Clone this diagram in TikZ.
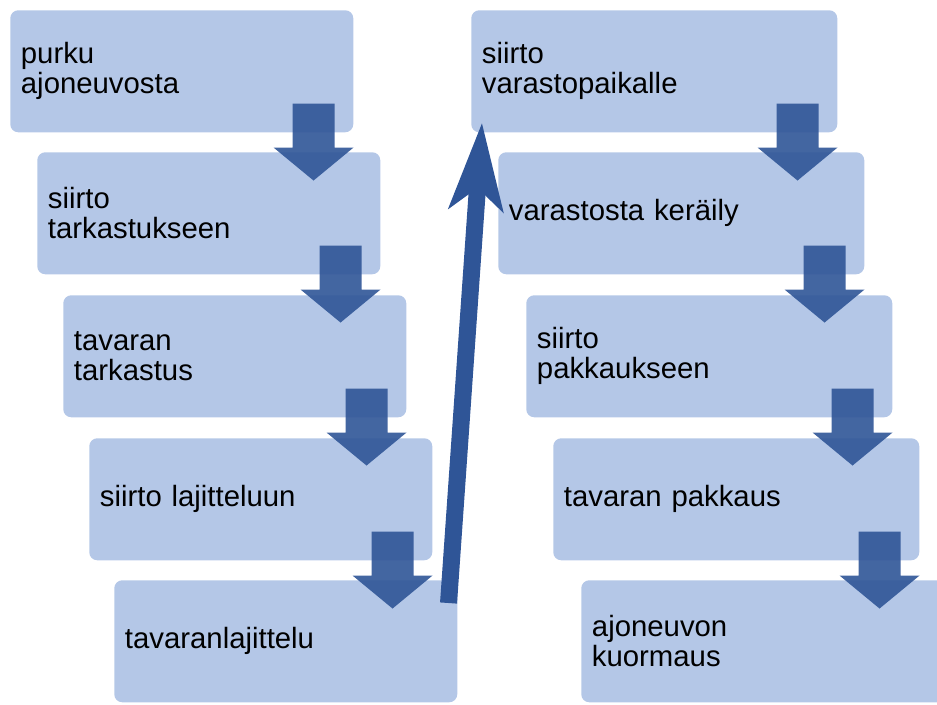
\documentclass[tikz,border=0pt]{standalone}
\usepackage{fontspec}
\setmainfont{Liberation Sans}
\usetikzlibrary{calc,arrows.meta}
\definecolor{boxfill}{RGB}{180,199,231}
\definecolor{flowblue}{RGB}{47,85,151}

% block arrow pointing down from the lower right corner of a box
\newcommand\stepdown[1]{%
  \fill[downarrow, shift={(#1.south east)}]
    (-61,-29) -- (-19,-29) -- (-19,15) -- (0,15) -- (-40,48)
    -- (-80,15) -- (-61,15) -- cycle;}

\begin{document}
\begin{tikzpicture}[x=0.75pt,y=-0.75pt,
  stepbox/.style={fill=boxfill, rounded corners=6pt, anchor=north west,
    inner xsep=8pt, inner ysep=0pt, minimum height=91.5pt, align=left,
    font=\fontsize{22}{22.5}\selectfont},
  leftbox/.style={stepbox, text width=241.25pt},
  rightbox/.style={stepbox, text width=258.5pt},
  downarrow/.style={fill=flowblue, fill opacity=0.9},
  uparrow/.style={draw=flowblue, line width=12.75pt,
    -{Stealth[length=65pt,width=40pt,inset=16pt]}},
]
\clip (0,0) rectangle (937,704);

% left column
\node[leftbox] (L1) at (10,10)  {purku\\ajoneuvosta};
\node[leftbox] (L2) at (37,152) {siirto\\tarkastukseen};
\node[leftbox] (L3) at (63,295) {tavaran\\tarkastus};
\node[leftbox] (L4) at (89,438) {siirto lajitteluun};
\node[leftbox] (L5) at (114,580) {tavaranlajittelu};

% right column
\node[rightbox] (R1) at (471,10)  {siirto\\varastopaikalle};
\node[rightbox] (R2) at (498,152) {varastosta keräily};
\node[rightbox] (R3) at (526,295) {siirto\\pakkaukseen};
\node[rightbox] (R4) at (553,438) {tavaran pakkaus};
\node[rightbox] (R5) at (581,580) {ajoneuvon\\kuormaus};

% step arrows
\stepdown{L1}\stepdown{L2}\stepdown{L3}\stepdown{L4}
\stepdown{R1}\stepdown{R2}\stepdown{R3}\stepdown{R4}

% connection from the left column to the right column
\coordinate (upstart) at ($(L5.north east)+(-9,23)$);
\coordinate (upend) at ($(R1.south west)+(11,-10)$);
\draw[uparrow] (upstart) -- (upend);
\end{tikzpicture}
\end{document}
